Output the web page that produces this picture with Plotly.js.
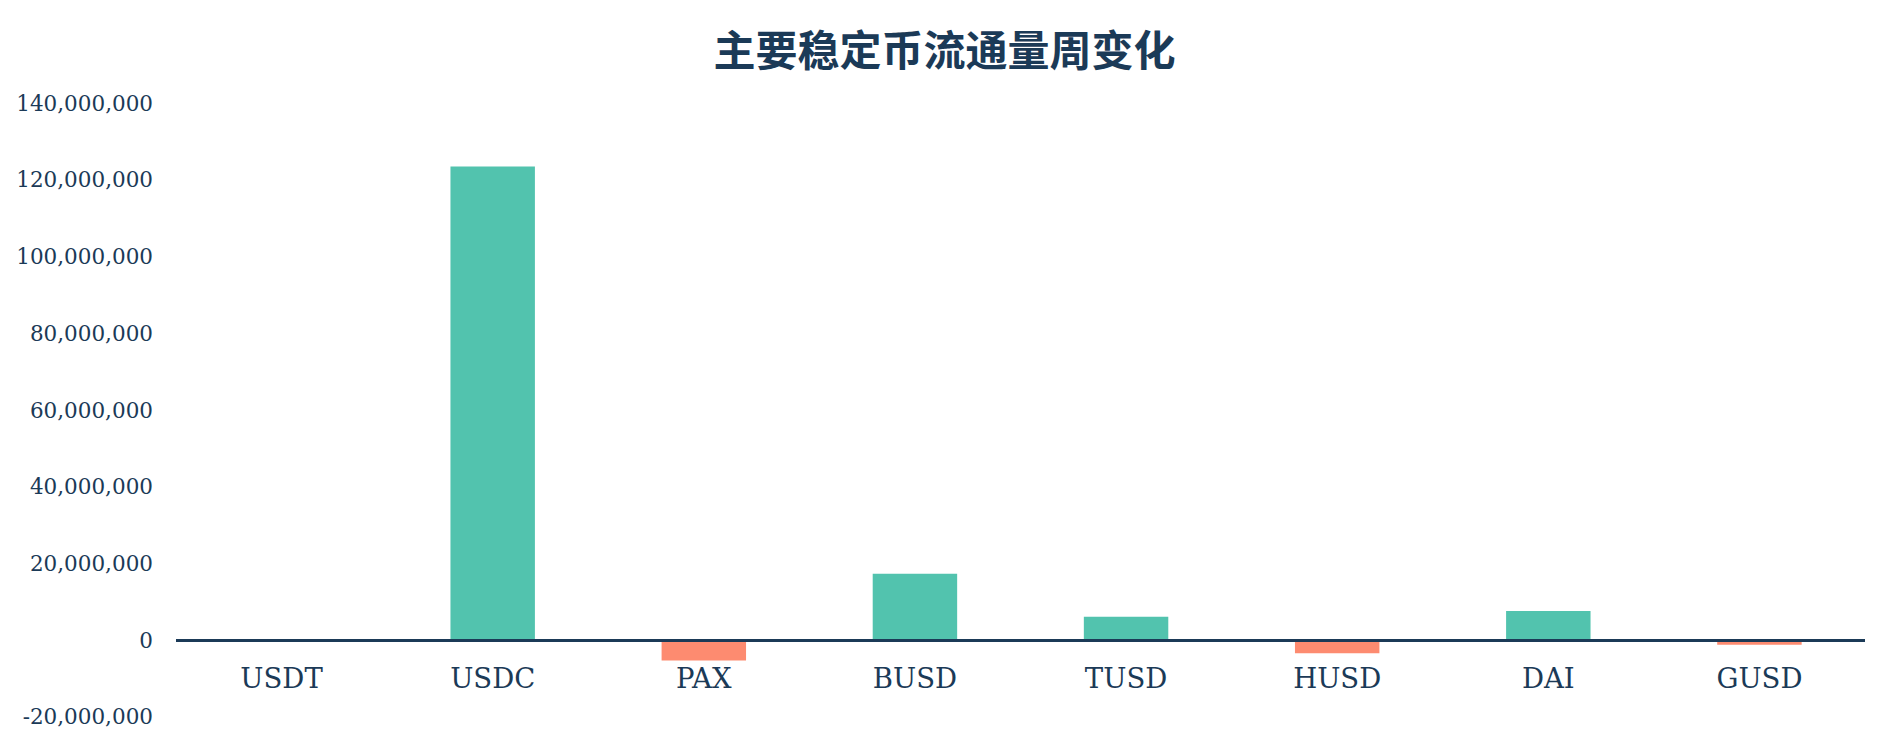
<!DOCTYPE html>
<html>
<head>
<meta charset="utf-8">
<script src="https://cdn.plot.ly/plotly-3.0.1.min.js"></script>
<style>
  html, body { margin: 0; padding: 0; background: #fff; }
  #chart { width: 1889px; height: 740px; }
</style>
</head>
<body>
<div id="chart"></div>
<script>
const title = '主要稳定币流通量周变化'
const coins = ['USDT', 'USDC', 'PAX', 'BUSD', 'TUSD', 'HUSD', 'DAI', 'GUSD']
const weeklyChange = [0, 123500000, -5300000, 17300000, 6100000, -3400000, 7600000, -1200000]
const yTicks = [-20000000, 0, 20000000, 40000000, 60000000, 80000000, 100000000, 120000000, 140000000]

const navy = '#1b3a57'
const up = '#52c3ae'
const down = '#fd8b70'
const serif = '"DejaVu Serif", "Liberation Serif", serif'

const trace = {
  type: 'bar',
  x: coins,
  y: weeklyChange,
  marker: { color: weeklyChange.map(v => (v < 0 ? down : up)), line: { width: 0 } },
  hoverinfo: 'x+y',
}

const layout = {
  width: 1889,
  height: 740,
  paper_bgcolor: '#fff',
  plot_bgcolor: '#fff',
  showlegend: false,
  bargap: 0.6,
  margin: { l: 176, r: 24, t: 103, b: 23 },
  title: {
    text: title,
    xref: 'container',
    x: 0.5,
    xanchor: 'center',
    yref: 'container',
    y: 1 - 51 / 740,
    yanchor: 'middle',
    font: { family: '"Noto Sans CJK SC", sans-serif', size: 42, color: navy, weight: 'bold' },
  },
  xaxis: {
    type: 'category',
    anchor: 'free',
    position: 20 / 160,
    showline: true,
    linecolor: navy,
    linewidth: 2.5,
    showgrid: false,
    zeroline: false,
    ticks: '',
    ticklabelstandoff: 13,
    tickfont: { family: serif, size: 27.5, color: navy },
  },
  yaxis: {
    range: [-20050000, 140050000],
    tickvals: yTicks,
    ticktext: yTicks.map(v => v.toLocaleString('en-US')),
    showgrid: false,
    zeroline: false,
    showline: false,
    ticks: '',
    ticklabelstandoff: 22,
    tickfont: { family: serif, size: 21.5, color: navy },
  },
}

Plotly.newPlot('chart', [trace], layout, { displayModeBar: false, staticPlot: true })
</script>
</body>
</html>
